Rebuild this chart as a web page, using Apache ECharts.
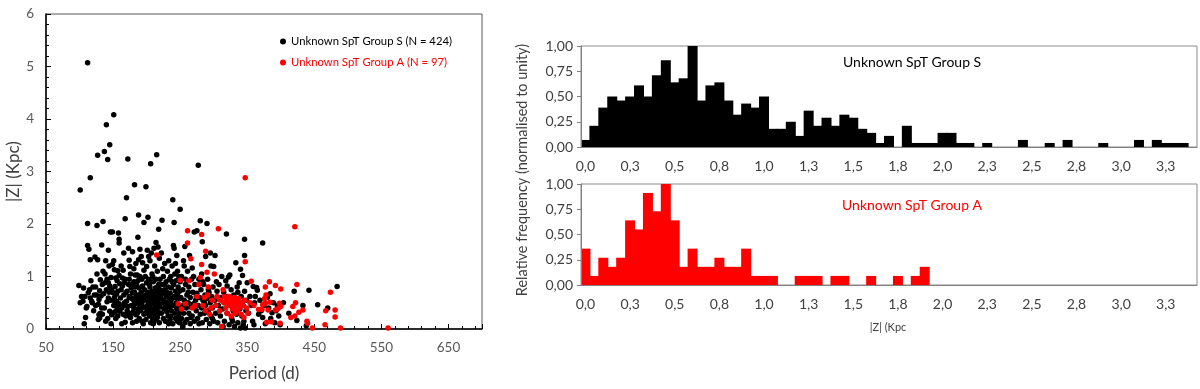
<!DOCTYPE html>
<html>
<head>
<meta charset="utf-8">
<script src="https://cdn.jsdelivr.net/npm/echarts@6/dist/echarts.min.js"></script>
<style>
  html, body { margin: 0; padding: 0; background: #fff; }
  #chart { width: 1200px; height: 389px; }
</style>
</head>
<body>
<div id="chart"></div>
<script>
// scatter: [period (d), |Z| (Kpc)]
const groupS = [
  [99,0.83],[101,0.50],[101,2.65],[105,0.53],[107,0.10],[108,0.62],[110,0.40],[111,0.43],[112,5.07],[112,2.01],[112,1.59],[113,0.69],[114,1.52],[115,0.75],[116,0.59],[116,2.88],[116,1.32],[118,0.53],[119,0.50],[120,0.80],[121,0.35],[122,0.65],[123,1.37],[124,0.80],[125,0.65],[126,1.05],[126,1.97],[127,1.32],[127,3.31],[128,0.47],[129,0.27],[129,0.56],[130,0.21],[130,0.73],[103,0.62],[106,0.78],[109,0.22],[117,0.92],[124,0.45],[128,0.18],
  [131,0.94],[132,0.63],[133,0.40],[134,0.28],[135,2.05],[136,0.67],[137,3.38],[138,0.88],[139,1.30],[140,0.75],[140,3.89],[141,0.52],[142,3.23],[143,0.88],[143,0.59],[143,1.50],[144,1.20],[145,0.34],[145,3.51],[146,1.85],[147,0.98],[148,0.27],[148,0.75],[149,1.85],[149,1.23],[150,0.30],[150,0.69],[151,4.08],[151,0.45],[152,1.13],[152,0.60],[153,0.81],[154,0.97],[154,0.20],[155,0.53],[156,0.38],[157,1.11],[157,0.72],[158,0.46],[158,1.83],[159,1.71],[159,1.64],[159,1.02],[160,0.34],[160,0.86],[135,1.10],[137,0.40],[139,0.15],[141,0.95],[144,0.70],[146,0.55],[147,0.10],[153,0.33],[155,0.66],[156,0.92],[131,0.30],[133,1.60],[138,1.05],[142,0.20],[145,0.82],[151,1.30],[157,0.25],[134,0.85],[150,0.55],[159,0.48],
  [161,0.59],[162,0.75],[163,0.40],[164,0.97],[165,1.12],[165,0.28],[166,0.65],[167,0.50],[168,0.95],[168,0.13],[168,2.10],[169,0.69],[170,0.53],[170,2.50],[171,0.35],[172,0.43],[172,0.30],[172,3.24],[173,1.54],[173,0.85],[174,1.31],[175,1.19],[175,0.62],[176,0.22],[177,0.78],[177,0.45],[178,0.58],[179,1.47],[179,0.69],[180,0.56],[180,0.33],[181,0.40],[181,0.90],[182,2.75],[182,0.70],[183,1.03],[183,0.48],[184,0.27],[184,0.62],[185,0.15],[185,0.85],[186,1.03],[186,0.52],[187,1.75],[187,0.38],[188,1.32],[188,2.17],[188,0.65],[189,0.20],[189,0.78],[190,1.00],[190,1.52],[190,0.45],[162,1.20],[163,0.10],[164,0.82],[166,1.45],[167,0.88],[169,0.25],[171,0.72],[174,0.95],[176,1.05],[178,0.30],[179,0.12],[181,1.15],[183,0.80],[185,0.58],[186,0.30],[187,0.92],[189,0.55],[166,0.45],[174,0.60],[178,0.85],[182,0.50],[184,1.25],
  [191,0.60],[191,0.35],[192,1.38],[192,0.70],[193,0.50],[193,0.15],[194,1.26],[194,0.82],[195,0.42],[195,0.62],[196,1.12],[196,2.03],[196,0.28],[197,0.55],[197,0.75],[198,1.00],[198,0.40],[199,2.71],[199,0.65],[199,0.18],[200,1.19],[200,0.58],[200,0.88],[201,0.45],[201,0.32],[202,2.13],[202,0.70],[203,1.38],[203,0.52],[203,0.95],[204,0.60],[204,0.25],[205,1.30],[205,0.80],[205,0.42],[206,3.15],[206,0.65],[206,0.12],[207,1.45],[207,0.55],[207,0.35],[208,0.72],[208,1.05],[209,0.48],[209,0.20],[210,0.62],[210,0.90],[210,0.38],[211,1.54],[211,0.68],[211,0.15],[212,0.52],[212,1.20],[213,0.45],[213,0.78],[213,0.28],[214,1.65],[214,0.60],[214,0.95],[215,3.32],[215,0.40],[215,0.70],[216,0.55],[216,0.22],[216,1.10],[217,1.56],[217,0.65],[217,0.33],[218,1.90],[218,0.85],[218,0.48],[219,0.58],[219,0.12],[219,1.35],[220,0.75],[220,0.42],[220,0.95],[193,0.95],[195,0.10],[198,0.30],[202,0.38],[204,0.85],[208,0.30],[209,1.00],[212,0.35],[214,0.18],[216,0.80],[219,0.30],[201,1.50],[206,0.90],[210,0.10],
  [221,0.60],[222,1.45],[222,0.30],[223,2.07],[223,0.85],[224,0.50],[224,0.68],[225,0.20],[225,1.00],[226,0.55],[226,0.38],[227,0.75],[227,1.25],[228,0.45],[228,0.15],[229,0.62],[229,0.90],[230,0.33],[230,0.70],[231,1.10],[231,0.50],[232,0.25],[232,0.80],[233,0.60],[233,1.30],[234,0.42],[234,0.95],[235,0.18],[235,0.68],[236,1.00],[236,0.52],[237,0.35],[237,0.78],[238,0.58],[238,1.20],[239,2.46],[239,0.10],[240,1.59],[240,0.45],[240,0.85],[241,2.03],[241,1.54],[241,0.62],[242,0.30],[242,1.05],[243,0.72],[243,0.20],[244,0.50],[244,0.92],[245,1.40],[245,0.38],[246,0.65],[246,0.15],[247,0.80],[247,0.45],[248,1.00],[248,0.28],[249,0.58],[249,0.72],[250,2.28],[250,0.35],[250,0.90],[224,1.15],[226,0.85],[229,0.40],[233,0.10],[236,0.25],[238,0.90],[243,1.25],[246,1.10],[249,0.12],[222,0.70],[231,0.65],[235,0.48],[244,0.60],[247,0.22],
  [251,0.60],[252,1.00],[252,0.20],[253,0.45],[254,0.75],[255,0.30],[255,1.30],[256,0.55],[257,1.57],[257,0.12],[258,0.85],[259,0.40],[260,0.65],[260,0.18],[261,1.10],[262,0.50],[263,0.30],[263,0.80],[264,1.40],[265,0.60],[265,0.10],[266,0.42],[267,0.95],[268,1.16],[268,0.25],[269,0.70],[270,0.48],[271,1.85],[271,0.15],[272,0.85],[273,0.55],[274,0.35],[275,1.87],[275,0.68],[276,0.20],[277,3.12],[277,0.45],[278,0.95],[279,0.60],[280,2.06],[280,0.28],[281,0.75],[282,0.40],[283,1.66],[283,0.12],[284,0.55],[285,0.85],[286,0.30],[287,0.65],[288,1.38],[288,0.45],[289,0.18],[290,2.01],[290,0.58],[291,0.95],[292,0.35],[293,0.70],[294,0.10],[295,0.50],[296,1.20],[296,0.25],[297,0.62],[298,0.40],[299,0.80],[300,1.19],[300,0.15],[254,0.05],[258,0.95],[262,0.70],[266,0.22],[270,1.00],[274,0.62],[278,0.10],[282,1.05],[286,0.50],[292,0.75],[298,0.20],[256,1.20],[284,0.90],[295,1.45],
  [302,1.40],[302,0.55],[303,0.30],[305,0.72],[306,0.12],[307,0.45],[308,0.85],[310,0.25],[311,0.60],[312,1.00],[313,0.38],[315,0.70],[316,0.15],[317,0.50],[318,0.92],[319,1.81],[320,0.30],[321,0.62],[322,0.99],[323,0.08],[324,1.03],[325,0.45],[326,0.75],[327,0.20],[328,0.55],[329,0.35],[330,0.65],[331,0.05],[332,0.48],[333,1.26],[334,0.28],[335,0.80],[336,0.12],[337,0.55],[338,0.88],[339,0.38],[340,1.14],[340,0.02],[341,0.62],[342,0.25],[343,1.02],[344,0.45],[345,0.15],[346,1.71],[346,1.40],[346,0.72],[347,0.02],[348,0.35],[349,0.55],[350,0.88],[304,0.90],[314,0.05],[320,0.82],[328,0.15],[336,0.70],[344,0.08],
  [352,0.30],[354,0.62],[356,0.45],[358,0.15],[359,0.81],[361,0.50],[362,0.62],[364,0.79],[365,0.74],[367,0.28],[369,0.55],[371,0.35],[373,0.22],[373,1.64],[375,0.45],[377,0.10],[380,0.60],[382,0.40],[384,0.67],[385,0.20],[387,0.31],[389,0.50],[391,0.12],[393,0.35],[395,0.45],[397,0.25],[399,0.08],[360,0.08],
  [404,0.50],[412,0.30],[420,0.72],[424,0.16],[433,0.45],[438,0.06],[442,0.74],[455,0.46],[484,0.81],[470,0.40]
];

const groupA = [
  [215,1.41],[250,0.93],[247,0.48],[252,0.38],[258,0.48],[261,1.87],[261,1.64],[263,0.92],[266,1.34],[268,0.40],[272,0.45],[275,0.62],[278,0.85],[280,0.98],[282,1.80],[282,1.23],[284,0.45],[286,0.60],[288,1.48],[288,0.35],[290,1.08],[291,0.65],[292,0.80],[294,0.28],[296,0.40],[298,0.55],
  [301,1.05],[303,0.45],[305,0.62],[307,1.91],[309,0.35],[310,0.55],[312,0.05],[314,0.75],[315,0.50],[316,0.62],[318,0.40],[319,0.55],[320,0.30],[322,0.48],[323,0.62],[325,0.45],[326,0.25],[327,0.55],[328,0.38],[329,0.50],[330,0.42],[331,0.60],[332,0.30],[333,0.48],[334,0.52],[335,0.35],[336,0.45],[337,0.58],[338,0.40],[340,0.50],[341,0.28],[343,0.45],[345,0.22],[346,0.55],[347,2.88],[347,1.28],[349,0.40],
  [351,0.30],[354,0.50],[356,0.91],[360,0.45],[367,0.37],[372,0.37],[373,0.46],[376,0.58],[377,0.80],[377,0.49],[378,0.65],[379,0.13],[381,0.36],[383,0.90],[384,0.51],[386,0.14],[392,0.83],[392,0.36],[396,0.39],[398,0.49],[399,0.11],[400,0.76],[400,0.43],
  [415,0.22],[418,0.43],[421,0.25],[421,1.95],[422,0.50],[424,0.85],[427,0.32],[433,0.36],[439,0.15],[440,0.11],[447,0.02],[466,0.08],[467,0.35],[474,0.70],[481,0.36],[481,0.23],[489,0.02],[560,0.02]
];

// histogram bins (|Z| lower edge, Kpc)
const bins = [
  '0.00','0.05','0.10','0.15','0.20','0.25','0.30','0.35','0.40','0.45',
  '0.50','0.55','0.60','0.65','0.70','0.75','0.80','0.85','0.90','0.95',
  '1.00','1.05','1.10','1.15','1.20','1.25','1.30','1.35','1.40','1.45',
  '1.50','1.55','1.60','1.65','1.70','1.75','1.80','1.85','1.90','1.95',
  '2.00','2.05','2.10','2.15','2.20','2.25','2.30','2.35','2.40','2.45',
  '2.50','2.55','2.60','2.65','2.70','2.75','2.80','2.85','2.90','2.95',
  '3.00','3.05','3.10','3.15','3.20','3.25','3.30','3.35','3.40'
];

const freqS = [
  0.07,0.21,0.39,0.50,0.46,0.50,0.61,0.50,0.71,0.86,
  0.64,0.68,1.00,0.46,0.61,0.64,0.46,0.32,0.43,0.39,
  0.50,0.18,0.18,0.25,0.11,0.36,0.21,0.29,0.21,0.32,
  0.29,0.18,0.14,0.04,0.11,0,0.21,0.04,0.04,0.04,
  0.14,0.14,0.04,0.04,0,0.04,0,0,0,0.07,
  0,0,0.04,0,0.07,0,0,0,0.04,0,
  0,0,0.07,0,0.07,0.04,0.04,0.04,0
];

const freqA = [
  0.36,0.09,0.27,0.18,0.27,0.64,0.55,0.91,0.73,1.00,
  0.64,0.18,0.36,0.18,0.18,0.27,0.18,0.18,0.36,0.09,
  0.09,0.09,0,0,0.09,0.09,0.09,0,0.09,0.09,
  0,0,0.09,0,0,0.09,0,0.09,0.18,0,
  0,0,0,0,0,0,0,0,0,0,
  0,0,0,0,0,0,0,0,0,0,
  0,0,0,0,0,0,0,0,0
];

const FONT = 'Lato, "Open Sans", sans-serif';
const labelGray = '#404040';

const chart = echarts.init(document.getElementById('chart'));

function commaFixed(v, d) {
  return Number(v).toFixed(d).replace('.', ',');
}

function histYAxis(gridIndex) {
  return {
    type: 'value',
    gridIndex,
    min: 0,
    max: 1,
    interval: 0.25,
    z: 5,
    axisLine: { show: true, lineStyle: { color: '#808080' } },
    axisTick: { show: true, length: 4, lineStyle: { color: '#808080' } },
    splitLine: { show: false },
    axisLabel: { color: labelGray, fontSize: 14, fontFamily: FONT, margin: 8, formatter: (v) => commaFixed(v, 2) },
  };
}

function histXAxis(gridIndex) {
  return {
    type: 'category',
    gridIndex,
    data: bins,
    boundaryGap: true,
    z: 5,
    axisLine: { lineStyle: { color: '#808080' } },
    axisTick: { show: false },
    axisLabel: {
      interval: 4,
      color: labelGray,
      fontSize: 14,
      fontFamily: FONT,
      margin: 12,
      formatter: (v) => commaFixed(parseFloat(v), 1),
    },
  };
}

chart.setOption({
  animation: false,
  backgroundColor: '#fff',
  textStyle: { fontFamily: FONT },
  grid: [
    { left: 46, right: 718, top: 14, bottom: 60, show: true, borderColor: '#595959', borderWidth: 1 },
    { left: 581, right: 3, top: 46, bottom: 242, show: true, borderColor: '#8c8c8c', borderWidth: 1 },
    { left: 581, right: 3, top: 184, bottom: 104, show: true, borderColor: '#8c8c8c', borderWidth: 1 },
  ],
  legend: {
    orient: 'vertical',
    left: 280,
    top: 36,
    padding: 0,
    itemWidth: 6,
    itemHeight: 6,
    itemGap: 10,
    icon: 'circle',
    textStyle: { fontSize: 11.3, fontFamily: FONT },
    data: [
      { name: 'Unknown SpT Group S (N = 424)', textStyle: { color: '#000' } },
      { name: 'Unknown SpT Group A (N = 97)', textStyle: { color: '#ff0000' } },
    ],
  },
  xAxis: [
    {
      type: 'value',
      gridIndex: 0,
      min: 50,
      max: 700,
      interval: 100,
      name: 'Period (d)',
      nameLocation: 'middle',
      nameGap: 36,
      nameTextStyle: { fontSize: 17, color: labelGray, fontFamily: FONT },
      axisLine: { lineStyle: { color: '#000', width: 1.5 } },
      axisTick: { inside: true, length: 5, lineStyle: { color: '#000' } },
      minorTick: { show: true, splitNumber: 5, length: 3, lineStyle: { color: '#000' } },
      splitLine: { show: false },
      axisLabel: { color: '#595959', fontSize: 13.5, fontFamily: FONT, margin: 12, showMaxLabel: false },
    },
    histXAxis(1),
    histXAxis(2),
  ],
  yAxis: [
    {
      type: 'value',
      gridIndex: 0,
      min: 0,
      max: 6,
      interval: 1,
      name: '|Z| (Kpc)',
      nameLocation: 'middle',
      nameGap: 24,
      nameTextStyle: { fontSize: 17, color: labelGray, fontFamily: FONT },
      axisLine: { show: true, lineStyle: { color: '#000', width: 1.5 } },
      axisTick: { show: true, inside: true, length: 5, lineStyle: { color: '#000' } },
      minorTick: { show: true, splitNumber: 5, length: 3, lineStyle: { color: '#000' } },
      splitLine: { show: false },
      axisLabel: { color: '#595959', fontSize: 13.5, fontFamily: FONT, margin: 12 },
    },
    histYAxis(1),
    histYAxis(2),
  ],
  series: [
    {
      name: 'Unknown SpT Group S (N = 424)',
      type: 'scatter',
      xAxisIndex: 0,
      yAxisIndex: 0,
      symbolSize: 5.5,
      itemStyle: { color: '#000', opacity: 1 },
      data: groupS,
    },
    {
      name: 'Unknown SpT Group A (N = 97)',
      type: 'scatter',
      xAxisIndex: 0,
      yAxisIndex: 0,
      symbolSize: 5.5,
      itemStyle: { color: '#ff0000', opacity: 1 },
      data: groupA,
    },
    {
      name: 'histS',
      type: 'bar',
      xAxisIndex: 1,
      yAxisIndex: 1,
      barWidth: '112%',
      itemStyle: { color: '#000' },
      data: freqS,
    },
    {
      name: 'histA',
      type: 'bar',
      xAxisIndex: 2,
      yAxisIndex: 2,
      barWidth: '112%',
      itemStyle: { color: '#ff0000' },
      data: freqA,
    },
  ],
  graphic: [
    {
      type: 'text',
      left: 843,
      top: 55,
      style: { text: 'Unknown SpT Group S', fill: '#000', font: '14px ' + FONT },
    },
    {
      type: 'text',
      left: 842,
      top: 198,
      style: { text: 'Unknown SpT Group A', fill: '#ff0000', font: '14px ' + FONT },
    },
    {
      type: 'text',
      x: 522,
      y: 170,
      rotation: Math.PI / 2,
      style: {
        text: 'Relative frequency (normalised to unity)',
        fill: labelGray,
        font: '14.5px ' + FONT,
        align: 'center',
        verticalAlign: 'middle',
      },
    },
    {
      type: 'text',
      x: 888,
      y: 327,
      style: { text: '|Z| (Kpc', fill: labelGray, font: '11px ' + FONT, align: 'center', verticalAlign: 'middle' },
    },
  ],
});
</script>
</body>
</html>
